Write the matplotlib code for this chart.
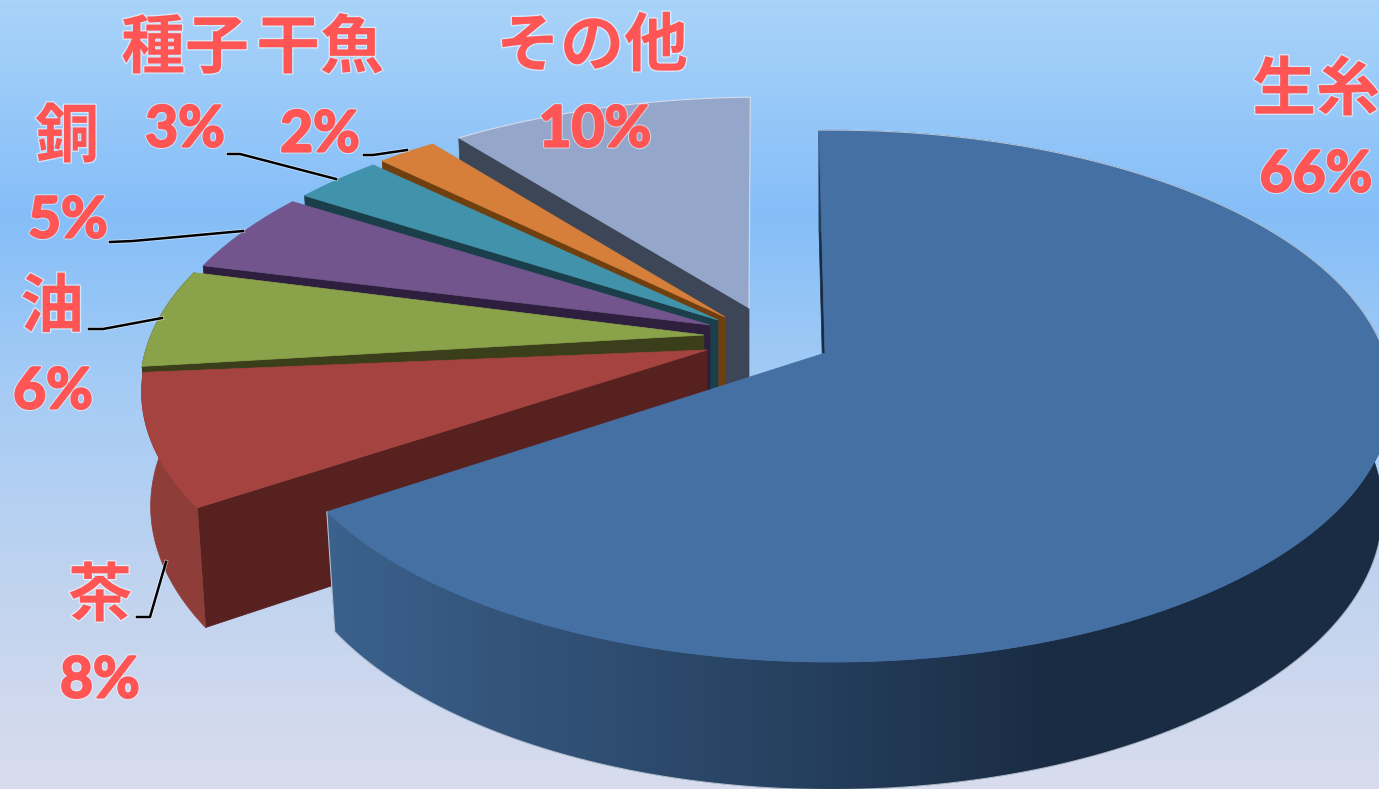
import numpy as np
import matplotlib
matplotlib.use('Agg')
import matplotlib.pyplot as plt
import matplotlib.patheffects as pe
from matplotlib.colors import LinearSegmentedColormap
from matplotlib.patches import Polygon

# export shares, percent
names = ['生糸', '茶', '油', '銅', '種子', '干魚', 'その他']
shares = [66, 8, 6, 5, 3, 2, 10]

# slice colours: top face, rim wall, radial wall
top_colors = ['#4470a3', '#a54340', '#8aa34b', '#71558c', '#4193ab', '#d67f3a', '#94a6ca']
rim_colors = ['#3a6089', '#8e3d39', '#3a3e1a', '#2d1f3d', '#1b3e4b', '#6f3f10', '#3c4656']
side_colors = ['#1a2c45', '#572120', '#3a3e1a', '#2d1f3d', '#1b3e4b', '#6f3f10', '#3c4656']

# exploded slice layout in pixels
apex_x = [825, 707, 704, 710, 718, 725, 749]
apex_y = [353, 350, 335, 325, 320, 317, 308]
rim_dx = [6.4, -5, -3, 0, 4, 6, 14]
rim_dy = [0, -1, 8, 11, 10, 9, 12]
rim_scale = [1, 1, 1, 1, 1, 1, 1.02]
# the green slice only shows a short strip of wall above the red one
wall_depth = [1, 1, 0.3, 1, 1, 1, 1]

A, B, K = 553, 259, 0.162
START = -1.5


def rim(theta, i):
    t = np.radians(theta)
    u, v = np.sin(t), np.cos(t)
    x = apex_x[i] + rim_dx[i] + rim_scale[i] * A * u / (1 + K * v)
    y = apex_y[i] + rim_dy[i] - B * v / (1 + K * v)
    return x, y


def lower(x, y, i):
    # bottom face sits below the top face, a little narrower
    lx = apex_x[i] + (1 - 0.016 * wall_depth[i]) * (x - apex_x[i])
    return lx, y + wall_depth[i] * (112 + (y - 353) * 0.05)


fig = plt.figure(figsize=(13.79, 7.89), dpi=100)
ax = fig.add_axes([0, 0, 1, 1])

# background
bg = LinearSegmentedColormap.from_list('bg', [(0, '#a9d3f9'), (0.27, '#85bef8'), (0.5, '#a6ccf5'),
                                              (0.8, '#c6d5ee'), (1, '#d9dcef')])
ax.imshow(np.linspace(0, 1, 256).reshape(-1, 1), cmap=bg, extent=[0, 1379, 789, 0], aspect='auto', zorder=0)

angles = START + np.cumsum([0] + shares) * 3.6
wall_cmap = LinearSegmentedColormap.from_list('wall', [(0, '#3b618c'), (0.65, '#26405f'), (1, '#1a2c44')])
wall_grad = np.clip((np.arange(1379) + 0.5 - 330) / 720, 0, 1).reshape(1, -1)

# far slices first, the big slice goes on top
for i in [6, 5, 4, 3, 2, 1, 0]:
    z = 2 + 7 - i
    th = np.linspace(angles[i], angles[i + 1], 240)
    x, y = rim(th, i)
    bx, by = lower(x, y, i)
    ax0, ay0 = apex_x[i], apex_y[i]
    bx0, by0 = lower(ax0, ay0, i)

    # radial wall at the start of the slice
    ax.add_patch(Polygon([(ax0, ay0), (x[0], y[0]), (bx[0], by[0]), (bx0, by0)],
                         fc=side_colors[i], ec=side_colors[i], lw=0.5, zorder=z))
    # rim wall, only the two front slices show one
    if i < 3:
        low = np.c_[bx, by]
        if i == 1:
            # carry the red bottom edge on under its top face so the outline stays smooth
            low = np.c_[lower(*rim(np.linspace(angles[i], angles[i + 1] + 12, 240), i), i)]
        wall = Polygon(np.r_[np.c_[x, y], low[::-1]], fc=rim_colors[i], ec=rim_colors[i], lw=0.5, zorder=z)
        ax.add_patch(wall)
    if i == 0:
        # the big slice darkens towards the right
        im = ax.imshow(wall_grad, cmap=wall_cmap, extent=[0, 1379, 789, 0], aspect='auto', zorder=z)
        im.set_clip_path(wall)
    # top face
    pts = np.r_[[(ax0, ay0)], np.c_[x, y]]
    ax.add_patch(Polygon(pts, fc=top_colors[i], ec=top_colors[i], lw=0.5, zorder=z))

    # thin light edges against the background
    if i == 0:
        back = th < 93
        ax.plot(x[back], y[back], color='white', lw=0.8, alpha=0.6, zorder=z)
        front = th > 93
        ax.plot(np.r_[x[-1], bx[front][::-1]], np.r_[y[-1], by[front][::-1]], color='white', lw=0.8, alpha=0.6, zorder=z)
    if i == 6:
        ax.plot(np.r_[x, ax0], np.r_[y, ay0], color='white', lw=0.8, alpha=0.6, zorder=z)

ax.set_xlim(0, 1379)
ax.set_ylim(789, 0)
ax.axis('off')

# leader lines
leaders = [
    ([137, 150, 166], [617, 617, 562]),
    ([89, 103, 162], [329, 329, 318]),
    ([110, 133, 243], [242, 241, 231]),
    ([228, 240, 336], [154, 154, 179]),
    ([364, 373, 407], [155, 155, 150]),
]
for lx, ly in leaders:
    ax.plot(lx, ly, color='black', lw=1.8, zorder=12,
            path_effects=[pe.withStroke(linewidth=3, foreground='white', alpha=0.5)])

# labels
halo = [pe.withStroke(linewidth=2, foreground='white', alpha=0.55)]
heavy = [pe.withStroke(linewidth=3, foreground='white', alpha=0.55),
         pe.withStroke(linewidth=1.6, foreground='#ff5555')]
name_x = [1316, 100, 52, 67, 185, 320, 592]
name_y = [91, 597, 308, 138, 49, 49, 47]
pct_x = [1316, 100, 53, 68, 185, 320, 595]
pct_y = [175, 681, 392, 221, 130, 135, 130]
for i in range(len(names)):
    ax.text(name_x[i], name_y[i], names[i], color='#ff5555', fontsize=46, fontweight='bold',
            family=['Noto Sans CJK JP', 'DejaVu Sans'], ha='center', va='center', zorder=15, path_effects=halo)
    ax.text(pct_x[i], pct_y[i], f'{shares[i]}%', color='#ff5555', fontsize=41, fontweight='bold',
            family=['Lato', 'DejaVu Sans'], ha='center', va='center', zorder=15, path_effects=heavy)

fig.savefig('out.png', dpi=100)
